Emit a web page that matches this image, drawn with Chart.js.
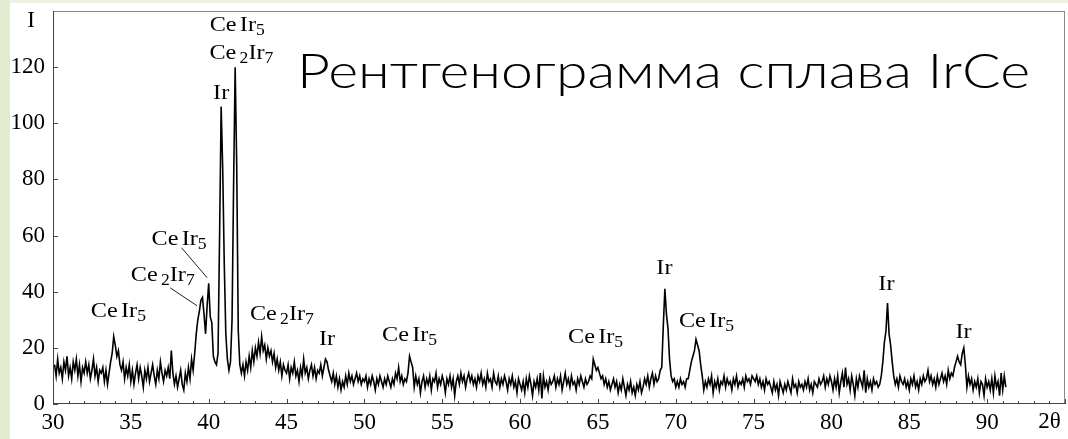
<!DOCTYPE html>
<html>
<head>
<meta charset="utf-8">
<script src="https://cdn.jsdelivr.net/npm/chart.js@4/dist/chart.umd.min.js"></script>
<style>
  html, body { margin: 0; padding: 0; background: #fff; }
  canvas { display: block; }
</style>
</head>
<body>
<canvas id="xrd" width="1068" height="439"></canvas>
<script>
// 2θ scan: first angle and step, intensity (one row per degree)
const twoThetaStart = 30.1;
const twoThetaStep = 0.1;

const int30to40 = [
  14, 10, 16, 11, 13, 9, 15, 12, 17, 10,
  13, 9, 15, 12, 16, 10, 14, 8, 13, 11,
  15, 11, 14, 9, 12, 16, 10, 13, 8, 12,
  11, 13, 8, 12, 7, 11, 15, 18, 24, 21,
  17, 19, 14, 12, 15, 9, 13, 10, 14, 8,
  12, 7, 11, 14, 9, 13, 10, 6, 12, 9,
  13, 8, 11, 14, 10, 7, 12, 9, 15, 11,
  8, 12, 10, 13, 9, 19, 11, 7, 10, 6,
  9, 12, 7, 5, 11, 8, 13, 9, 16, 12,
  18, 25, 30, 33, 37, 38, 32, 25, 35, 43
];
const int40to50 = [
  31, 29, 17, 15, 14, 18, 60, 106, 84, 50,
  25, 16, 12, 15, 30, 78, 120, 85, 26, 14,
  11, 14, 10, 15, 12, 17, 13, 19, 15, 20,
  17, 22, 18, 24, 19, 21, 16, 20, 17, 19,
  15, 18, 13, 16, 12, 15, 10, 14, 12, 11,
  14, 9, 13, 11, 15, 10, 12, 8, 13, 10,
  16, 11, 13, 9, 12, 14, 10, 13, 9, 12,
  11, 14, 10, 13, 16, 15, 12, 10, 8, 11,
  7, 10, 6, 9, 5, 8, 6, 10, 7, 11,
  8, 10, 7, 9, 11, 8, 10, 7, 9, 8
];
const int50to60 = [
  10, 6, 9, 7, 10, 8, 5, 9, 7, 10,
  8, 6, 9, 7, 10, 8, 6, 9, 7, 11,
  9, 13, 8, 10, 7, 9, 8, 11, 17, 15,
  13, 6, 10, 7, 9, 4, 8, 10, 6, 9,
  7, 10, 5, 9, 8, 11, 6, 9, 7, 10,
  8, 4, 9, 7, 10, 6, 9, 3, 8, 10,
  7, 11, 8, 10, 6, 9, 11, 8, 10, 7,
  9, 6, 10, 8, 11, 7, 9, 6, 11, 8,
  9, 6, 11, 8, 7, 10, 6, 9, 7, 10,
  8, 5, 9, 7, 10, 6, 8, 4, 9, 7
];
const int60to70 = [
  5, 8, 4, 9, 6, 10, 7, 3, 8, 6,
  9, 5, 11, 2, 10, 6, 8, 5, 9, 7,
  8, 10, 6, 9, 7, 10, 5, 8, 11, 7,
  9, 6, 10, 7, 8, 5, 9, 7, 10, 8,
  6, 9, 7, 8, 10, 9, 16, 14, 12, 13,
  11, 9, 10, 7, 9, 6, 8, 5, 7, 9,
  6, 8, 4, 7, 5, 9, 6, 3, 7, 5,
  8, 4, 6, 3, 7, 5, 8, 4, 6, 9,
  7, 10, 6, 9, 11, 7, 10, 8, 9, 12,
  13, 28, 41, 32, 27, 16, 10, 8, 9, 6
];
const int70to80 = [
  8, 6, 9, 7, 8, 6, 9, 9, 12, 15,
  17, 19, 23, 21, 19, 14, 10, 5, 8, 6,
  9, 7, 10, 4, 8, 6, 9, 5, 8, 7,
  10, 6, 9, 7, 8, 5, 9, 7, 10, 6,
  8, 7, 9, 6, 10, 8, 9, 7, 10, 9,
  8, 10, 7, 9, 6, 8, 5, 9, 7, 8,
  6, 4, 8, 5, 7, 3, 8, 6, 4, 7,
  5, 8, 6, 4, 9, 6, 7, 4, 8, 6,
  7, 5, 8, 6, 9, 5, 7, 4, 8, 7,
  6, 9, 7, 8, 10, 6, 9, 7, 10, 8
];
const int80to91 = [
  5, 9, 6, 10, 4, 8, 11, 6, 13, 7,
  9, 5, 10, 7, 3, 9, 6, 10, 8, 6,
  12, 4, 9, 6, 8, 5, 9, 7, 8, 6,
  7, 10, 15, 22, 26, 36, 25, 21, 15, 10,
  7, 9, 6, 10, 8, 7, 9, 6, 8, 5,
  9, 7, 10, 6, 8, 5, 9, 7, 10, 8,
  9, 12, 8, 10, 7, 9, 6, 10, 7, 9,
  11, 8, 10, 7, 12, 9, 11, 10, 13, 15,
  17, 15, 14, 18, 20, 14, 6, 10, 7, 9,
  5, 8, 6, 9, 4, 8, 7, 3, 9, 6,
  8, 5, 9, 4, 10, 6, 8, 3, 11, 5,
  10, 6
];

const xTickValues = [30, 35, 40, 45, 50, 55, 60, 65, 70, 75, 80, 85, 90];
const yTickValues = [0, 20, 40, 60, 80, 100, 120];

const chartTitle = 'Рентгенограмма сплава IrCe';

// phase labels, anchored in data units (x = centre, y = text baseline)
const peakLabels = [
  { text: 'CeIr5',  x: 34.2,  y: 31.1 },
  { text: 'Ce2Ir7', x: 37.05, y: 43.7 },
  { text: 'CeIr5',  x: 38.1,  y: 56.8 },
  { text: 'Ce2Ir7', x: 44.7,  y: 30.0 },
  { text: 'Ir',     x: 47.6,  y: 21.1 },
  { text: 'CeIr5',  x: 41.83, y: 132.7 },
  { text: 'Ce2Ir7', x: 42.1,  y: 122.9 },
  { text: 'Ir',     x: 40.8,  y: 108.6 },
  { text: 'CeIr5',  x: 52.9,  y: 22.3 },
  { text: 'CeIr5',  x: 64.85, y: 21.7 },
  { text: 'Ir',     x: 69.27, y: 46.3 },
  { text: 'CeIr5',  x: 71.97, y: 27.6 },
  { text: 'Ir',     x: 83.53, y: 40.7 },
  { text: 'Ir',     x: 88.48, y: 23.5 }
];
// leader lines from a label to its peak: [x1, y1, x2, y2]
const leaders = [
  [37.52, 41.4, 39.25, 35.0],
  [38.25, 55.7, 39.9, 45.0]
];

const intensity = [].concat(int30to40, int40to50, int50to60, int60to70, int70to80, int80to91);
const points = intensity.map((v, i) => ({ x: +(twoThetaStart + i * twoThetaStep).toFixed(1), y: v }));

const serif = '"Liberation Serif", "Times New Roman", serif';

function drawFormula(ctx, text, cx, by) {
  const parts = text.match(/[A-Z][a-z]*|\d+/g);
  const stretch = 1.1;
  let w = 0;
  const items = parts.map((p, i) => {
    const sub = /\d/.test(p);
    ctx.font = (sub ? '16px ' : '22px ') + serif;
    const pw = ctx.measureText(p).width;
    const gap = (p === 'Ce' && i < parts.length - 1) ? 3 : 0;
    const it = { p, sub, x: w, font: ctx.font };
    w += pw + gap;
    return it;
  });
  ctx.save();
  ctx.translate(cx, by);
  ctx.scale(stretch, 1);
  ctx.textBaseline = 'alphabetic';
  ctx.textAlign = 'left';
  items.forEach(it => {
    ctx.font = it.font;
    ctx.fillText(it.p, it.x - w / 2, it.sub ? 4 : 0);
  });
  ctx.restore();
}

const decor = {
  id: 'xrdDecor',
  beforeDraw(chart) {
    const ctx = chart.ctx;
    ctx.save();
    ctx.fillStyle = '#ffffff';
    ctx.fillRect(0, 0, chart.width, chart.height);
    ctx.fillStyle = '#eef3dd';
    ctx.fillRect(0, 0, chart.width, 3);
    ctx.fillStyle = '#e3ebd0';
    ctx.fillRect(0, 0, 10, chart.height);
    ctx.restore();
  },
  afterDraw(chart) {
    const { ctx, chartArea: a, scales: { x, y } } = chart;
    const line = (x1, y1, x2, y2) => { ctx.beginPath(); ctx.moveTo(x1, y1); ctx.lineTo(x2, y2); ctx.stroke(); };
    ctx.save();
    ctx.lineWidth = 1;

    // frame
    ctx.strokeStyle = '#8a8a8a';
    line(a.left, a.top + 0.5, a.right, a.top + 0.5);
    line(a.right - 0.5, a.top, a.right - 0.5, a.bottom);
    ctx.strokeStyle = '#444';
    line(a.left + 0.5, a.top, a.left + 0.5, a.bottom);
    line(a.left, a.bottom - 0.5, a.right, a.bottom - 0.5);

    // inward tick marks
    for (let v = x.min; v <= x.max; v++) {
      const px = Math.round(x.getPixelForValue(v)) + 0.5;
      line(px, a.bottom, px, a.bottom - (v % 5 === 0 ? 5 : 3));
    }
    yTickValues.forEach(v => {
      const py = Math.round(y.getPixelForValue(v)) + 0.5;
      line(a.left, py, a.left + 5, py);
    });

    // axis names
    ctx.fillStyle = '#000';
    ctx.font = '23px ' + serif;
    ctx.textAlign = 'center';
    ctx.textBaseline = 'middle';
    ctx.fillText('I', a.left - 22, y.getPixelForValue(136.4));
    ctx.fillText('2θ', x.getPixelForValue(94), a.bottom + 18);

    // phase labels and leaders
    ctx.strokeStyle = '#222';
    leaders.forEach(l => line(x.getPixelForValue(l[0]), y.getPixelForValue(l[1]), x.getPixelForValue(l[2]), y.getPixelForValue(l[3])));
    peakLabels.forEach(l => drawFormula(ctx, l.text, x.getPixelForValue(l.x), y.getPixelForValue(l.y)));

    // slide title
    ctx.font = '300 47px Lato, "Noto Sans", sans-serif';
    ctx.textAlign = 'left';
    ctx.textBaseline = 'alphabetic';
    const tw = ctx.measureText(chartTitle).width;
    ctx.translate(297, 88);
    ctx.scale(733 / tw, 1);
    ctx.fillText(chartTitle, 0, 0);
    ctx.restore();
  }
};

new Chart(document.getElementById('xrd'), {
  type: 'line',
  data: {
    datasets: [{
      data: points,
      borderColor: '#000',
      borderWidth: 1.6,
      pointRadius: 0,
      fill: false,
      tension: 0
    }]
  },
  options: {
    responsive: false,
    animation: false,
    layout: { padding: { top: 11, right: 3, left: 0, bottom: 0 } },
    plugins: { legend: { display: false }, tooltip: { enabled: false } },
    scales: {
      x: {
        type: 'linear', min: 30, max: 95,
        afterFit(s) { s.height = 35; s.paddingLeft = 0; s.paddingRight = 0; },
        grid: { display: false, drawTicks: false },
        border: { display: false },
        ticks: {
          stepSize: 5, autoSkip: false, maxRotation: 0, padding: 5, color: '#000',
          font: { family: serif, size: 23 },
          callback: v => xTickValues.includes(v) ? v : ''
        }
      },
      y: {
        min: 0, max: 140,
        afterFit(s) { s.width = 53; s.paddingTop = 0; s.paddingBottom = 0; },
        grid: { display: false, drawTicks: false },
        border: { display: false },
        ticks: {
          stepSize: 20, autoSkip: false, padding: 8, color: '#000',
          font: { family: serif, size: 23 },
          callback: v => yTickValues.includes(v) ? v : ''
        }
      }
    }
  },
  plugins: [decor]
});
</script>
</body>
</html>
